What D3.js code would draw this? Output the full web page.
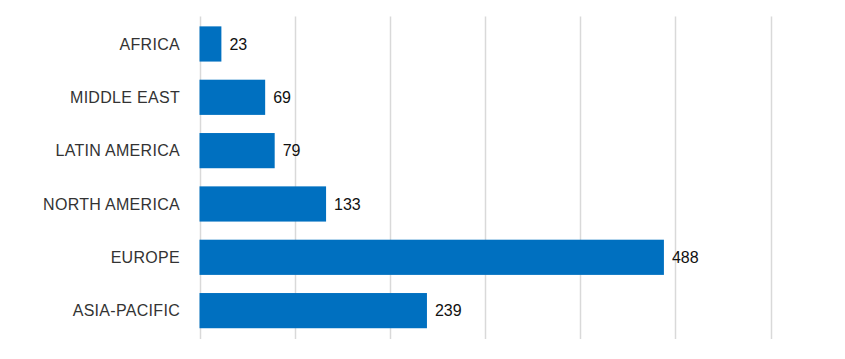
<!DOCTYPE html>
<html><head><meta charset="utf-8">
<script src="https://cdn.jsdelivr.net/npm/d3@7"></script>
<style>html,body{margin:0;padding:0;background:#fff;}</style>
</head><body>
<svg id="c" width="845" height="359"></svg>
<script>
const categories = ["AFRICA","MIDDLE EAST","LATIN AMERICA","NORTH AMERICA","EUROPE","ASIA-PACIFIC"];
const values = [23, 69, 79, 133, 488, 239];
const xTicks = [0,100,200,300,400,500,600];

const svg = d3.select("#c");
const x = d3.scaleLinear().domain([0,600]).range([199.5,770.5]);
const y = d3.scaleBand().domain(categories).range([17.3,337.3]).paddingInner(0.34).paddingOuter(0.17);

svg.append("g").selectAll("line").data(xTicks).join("line")
  .attr("x1",d=>Math.round(x(d))+0.5).attr("x2",d=>Math.round(x(d))+0.5)
  .attr("y1",16.5).attr("y2",339)
  .attr("stroke","#d9d9d9").attr("stroke-width",1.5);

svg.append("g").selectAll("rect").data(categories).join("rect")
  .attr("x",x(0)).attr("y",d=>y(d))
  .attr("width",(d,i)=>x(values[i])-x(0)).attr("height",y.bandwidth())
  .attr("fill","#0070c0");

const font = "'Liberation Sans', Arial, sans-serif";
svg.append("g").selectAll("text").data(categories).join("text")
  .attr("x",180).attr("y",d=>y(d)+y.bandwidth()/2).attr("dy","0.36em")
  .attr("text-anchor","end").attr("font-family",font).attr("font-size",16)
  .attr("letter-spacing","0.3px")
  .attr("fill","#333").text(d=>d);

svg.append("g").selectAll("text").data(categories).join("text")
  .attr("x",(d,i)=>x(values[i])+8).attr("y",d=>y(d)+y.bandwidth()/2).attr("dy","0.36em")
  .attr("font-family",font).attr("font-size",16)
  .attr("fill","#111").text((d,i)=>values[i]);
</script>
</body></html>
